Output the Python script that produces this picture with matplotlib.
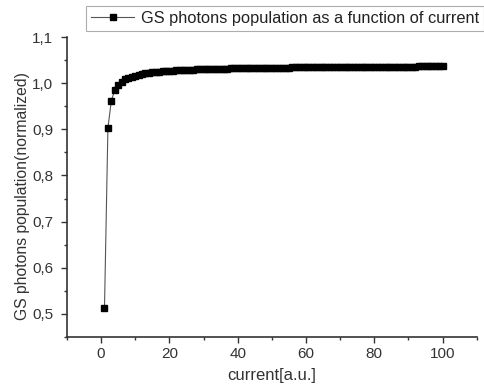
import matplotlib
matplotlib.use("Agg")
import matplotlib.pyplot as plt
from matplotlib.ticker import MultipleLocator, FixedLocator

plt.rcParams['font.family'] = ['Liberation Sans', 'DejaVu Sans']

current = list(range(1, 101))
population = [
    0.5130, 0.9030, 0.9620, 0.9850, 0.9960, 1.0030, 1.0080, 1.0115, 1.0143, 1.0165,
    1.0183, 1.0198, 1.0211, 1.0222, 1.0232, 1.0240, 1.0248, 1.0255, 1.0261, 1.0267,
    1.0272, 1.0277, 1.0281, 1.0285, 1.0289, 1.0292, 1.0295, 1.0298, 1.0301, 1.0304,
    1.0306, 1.0308, 1.0311, 1.0313, 1.0315, 1.0317, 1.0318, 1.0320, 1.0322, 1.0323,
    1.0325, 1.0326, 1.0327, 1.0329, 1.0330, 1.0331, 1.0332, 1.0333, 1.0334, 1.0335,
    1.0336, 1.0337, 1.0338, 1.0339, 1.0340, 1.0341, 1.0342, 1.0342, 1.0343, 1.0344,
    1.0345, 1.0345, 1.0346, 1.0347, 1.0347, 1.0348, 1.0349, 1.0349, 1.0350, 1.0351,
    1.0351, 1.0352, 1.0352, 1.0353, 1.0353, 1.0354, 1.0354, 1.0355, 1.0355, 1.0356,
    1.0356, 1.0357, 1.0357, 1.0358, 1.0358, 1.0359, 1.0359, 1.0360, 1.0360, 1.0360,
    1.0361, 1.0361, 1.0362, 1.0362, 1.0362, 1.0363, 1.0363, 1.0364, 1.0364, 1.0364,
]
series_label = "GS photons population as a function of current"
x_ticks = [0, 20, 40, 60, 80, 100]
y_ticks = [0.5, 0.6, 0.7, 0.8, 0.9, 1.0, 1.1]
y_tick_labels = ["0,5", "0,6", "0,7", "0,8", "0,9", "1,0", "1,1"]

fig = plt.figure(figsize=(4.85, 3.9), dpi=100)
ax = fig.add_axes([0.138, 0.136, 0.845, 0.769])

ax.plot(current, population, color='#555555', linewidth=0.8,
        marker='s', markersize=5.0, markerfacecolor='black',
        markeredgecolor='black', label=series_label)

ax.set_xlim(-10, 110)
ax.set_ylim(0.45, 1.1)
ax.xaxis.set_major_locator(FixedLocator(x_ticks))
ax.xaxis.set_minor_locator(MultipleLocator(10))
ax.yaxis.set_major_locator(FixedLocator(y_ticks))
ax.set_yticklabels(y_tick_labels)
ax.yaxis.set_minor_locator(MultipleLocator(0.05))

for s in ['top', 'right']:
    ax.spines[s].set_visible(False)
for s in ['left', 'bottom']:
    ax.spines[s].set_color('#333333')
    ax.spines[s].set_linewidth(1.2)

ax.tick_params(which='major', direction='out', length=4, width=1, colors='#333333',
               labelsize=11, labelcolor='#333333')
ax.tick_params(axis='y', which='major', pad=6)
ax.tick_params(which='minor', direction='out', length=2.5, width=1, colors='#333333')

ax.set_xlabel("current[a.u.]", fontsize=12, color='#333333', labelpad=5)
ax.set_ylabel("GS photons population(normalized)", fontsize=11.3, color='#333333')
ax.yaxis.set_label_coords(-0.09, 0.47)

leg = fig.legend(loc='upper right', bbox_to_anchor=(0.997, 0.985),
                 fontsize=11.8, frameon=True, fancybox=False,
                 handlelength=2.6, borderpad=0.3, handletextpad=0.4,
                 borderaxespad=0)
leg.get_frame().set_edgecolor('#999999')
leg.get_frame().set_linewidth(0.8)
for t in leg.get_texts():
    t.set_color('#222222')

fig.savefig("out.png", dpi=100)
